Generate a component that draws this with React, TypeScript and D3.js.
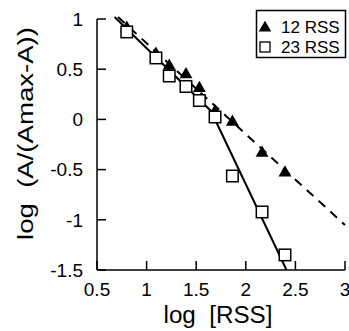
import React from "react";
import * as d3 from "d3";

// ---- data ----
const logRSS = [0.8, 1.094, 1.228, 1.397, 1.532, 1.69, 1.865, 2.164, 2.395];
const series12 = [0.92, 0.661, 0.542, 0.457, 0.32, 0.089, -0.016, -0.325, -0.521];
const series23 = [0.871, 0.612, 0.432, 0.328, 0.188, 0.024, -0.564, -0.922, -1.35];
const fit12X = [0.712, 3.0];
const fit12Y = [1.02, -1.052];
const fit23X = [0.677, 1.649, 2.411];
const fit23Y = [1.02, 0.084, -1.5];
const xTicks = [0.5, 1, 1.5, 2, 2.5, 3];
const yTicks = [1, 0.5, 0, -0.5, -1, -1.5];
const legendLabels = ["12 RSS", "23 RSS"];

const W = 349;
const H = 331;
const FONT = "'Liberation Sans', Arial, Helvetica, sans-serif";

export default function App() {
  const x = d3.scaleLinear().domain([0.5, 3]).range([97, 345]);
  const y = d3.scaleLinear().domain([-1.5, 1]).range([270, 19]);
  const line = d3
    .line<[number, number]>()
    .x((d) => x(d[0]))
    .y((d) => y(d[1]));
  const fit12 = fit12X.map((v, i) => [v, fit12Y[i]] as [number, number]);
  const fit23 = fit23X.map((v, i) => [v, fit23Y[i]] as [number, number]);
  const tri = d3.symbol().type(d3.symbolTriangle).size(72)();
  const triLegend = d3.symbol().type(d3.symbolTriangle).size(68)();
  const sq = 11.5;

  return (
    <svg
      width={W}
      height={H}
      style={{ position: "absolute", left: 0, top: 0, background: "#fff" }}
      fontFamily={FONT}
    >
      <rect width={W} height={H} fill="#fff" />
      {/* fit lines */}
      <path d={line(fit12) || ""} fill="none" stroke="#000" strokeWidth={2} strokeDasharray="9,7" />
      <path d={line(fit23) || ""} fill="none" stroke="#000" strokeWidth={2} />
      {/* axes */}
      <line x1={x(0.5)} x2={x(0.5)} y1={y(1)} y2={y(-1.5)} stroke="#000" strokeWidth={1.5} />
      <line x1={x(0.5)} x2={x(3)} y1={y(-1.5)} y2={y(-1.5)} stroke="#000" strokeWidth={1.5} />
      {yTicks.map((t) => (
        <g key={"y" + t}>
          <line x1={x(0.5)} x2={x(0.5) + 9} y1={y(t)} y2={y(t)} stroke="#000" strokeWidth={1.5} />
          <text x={83} y={y(t)} dy="0.36em" textAnchor="end" fontSize={19}>
            {String(t)}
          </text>
        </g>
      ))}
      {xTicks.map((t) => (
        <g key={"x" + t}>
          <line x1={x(t)} x2={x(t)} y1={y(-1.5)} y2={y(-1.5) - 9} stroke="#000" strokeWidth={1.5} />
          <text x={x(t)} y={296} textAnchor="middle" fontSize={19}>
            {String(t)}
          </text>
        </g>
      ))}
      {/* axis titles */}
      <text
        x={218}
        y={323}
        textAnchor="middle"
        fontSize={23}
        textLength={109}
        lengthAdjust="spacingAndGlyphs"
        style={{ whiteSpace: "pre" }}
      >
        {"log  [RSS]"}
      </text>
      <text
        transform={`translate(33,${133.5}) rotate(-90)`}
        textAnchor="middle"
        fontSize={22}
        textLength={213}
        lengthAdjust="spacingAndGlyphs"
        style={{ whiteSpace: "pre" }}
      >
        {"log  (A/(Amax-A))"}
      </text>
      {/* markers */}
      {logRSS.map((v, i) => (
        <path key={"t" + i} d={tri || ""} transform={`translate(${x(v)},${y(series12[i]) + 1})`} fill="#000" />
      ))}
      {logRSS.map((v, i) => (
        <rect
          key={"s" + i}
          x={x(v) - sq / 2}
          y={y(series23[i]) - sq / 2}
          width={sq}
          height={sq}
          fill="#fff"
          stroke="#000"
          strokeWidth={1.5}
        />
      ))}
      {/* legend */}
      <rect x={256.5} y={10.5} width={89} height={47} fill="#fff" stroke="#000" strokeWidth={1.5} />
      <path d={triLegend || ""} transform="translate(265,28)" fill="#000" />
      <text x={281} y={33} fontSize={17}>
        {legendLabels[0]}
      </text>
      <rect x={260} y={42} width={10} height={10} fill="#fff" stroke="#000" strokeWidth={1.3} />
      <text x={281} y={53} fontSize={17}>
        {legendLabels[1]}
      </text>
    </svg>
  );
}
